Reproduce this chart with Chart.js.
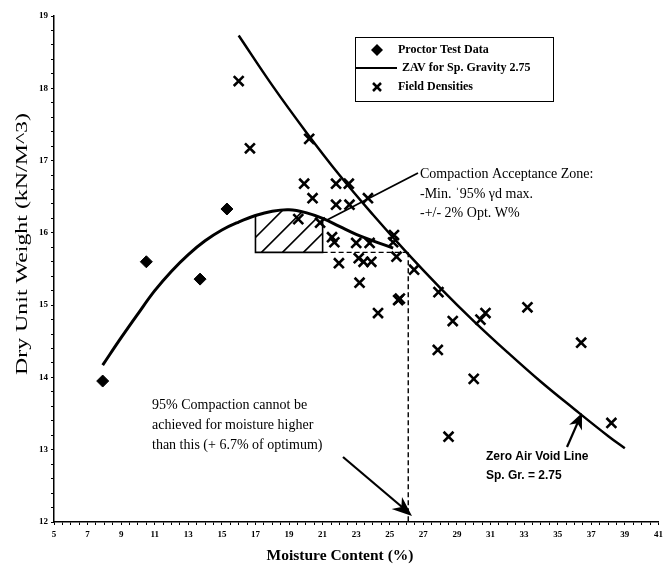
<!DOCTYPE html>
<html>
<head>
<meta charset="utf-8">
<script src="https://cdn.jsdelivr.net/npm/chart.js@4.4.1/dist/chart.umd.min.js"></script>
<style>
  html, body { margin: 0; padding: 0; background: #fff; }
  canvas { display: block; }
</style>
</head>
<body>
<canvas id="compaction" width="668" height="566"></canvas>
<script>
// proctor test points (moisture %, dry unit weight kN/m3)
const proctorW = [7.9, 10.5, 13.7, 15.3];
const proctorG = [13.95, 15.6, 15.36, 16.33];

// fitted compaction curve
const curveW = [7.9, 9, 10, 11, 12, 13, 14, 15, 16, 17, 18, 19, 20, 21, 22, 23, 24, 25.2];
const curveG = [14.17, 14.55, 14.88, 15.2, 15.47, 15.7, 15.89, 16.04, 16.15, 16.24, 16.3, 16.32, 16.28, 16.2, 16.09, 15.98, 15.89, 15.79];

// zero air void line, Sp. Gr. 2.75
const zavW = [16, 18, 20, 22, 24, 26, 28, 30, 32, 34, 36, 38, 39];
const zavG = [18.73, 18.04, 17.4, 16.8, 16.25, 15.73, 15.24, 14.78, 14.35, 13.94, 13.56, 13.19, 13.02];

// field densities
const fieldW = [16.0, 16.67, 20.2, 19.9, 20.4, 21.8, 22.56, 21.8, 22.6, 23.7, 19.55, 20.85, 21.56, 21.7,
                23.0, 23.8, 25.2, 25.25, 25.4, 21.97, 23.15, 23.44, 23.9, 26.45, 23.2, 25.5, 25.6, 24.3,
                27.9, 28.75, 30.7, 30.4, 33.2, 36.4, 27.86, 30.0, 28.5, 38.2];
const fieldG = [18.1, 17.17, 17.3, 16.68, 16.48, 16.68, 16.68, 16.39, 16.39, 16.48, 16.19, 16.14, 15.94, 15.87,
                15.86, 15.86, 15.87, 15.97, 15.67, 15.58, 15.65, 15.6, 15.6, 15.49, 15.31, 15.07, 15.09, 14.89,
                15.18, 14.78, 14.89, 14.8, 14.97, 14.48, 14.38, 13.98, 13.18, 13.37];

const zoneW = [17, 21];   // +/- 2% of optimum
const minG = 15.73;       // 95% of max
const limitW = 26.1;      // wettest moisture still reaching 95%

const pts = (xs, ys) => xs.map((v, i) => ({x: v, y: ys[i]}));

function arrowHead(ctx, x0, y0, x1, y1, len, half) {
    const a = Math.atan2(y1 - y0, x1 - x0);
    ctx.beginPath();
    ctx.moveTo(x1, y1);
    ctx.lineTo(x1 - len * Math.cos(a) + half * Math.sin(a), y1 - len * Math.sin(a) - half * Math.cos(a));
    ctx.lineTo(x1 - len * 0.7 * Math.cos(a), y1 - len * 0.7 * Math.sin(a));
    ctx.lineTo(x1 - len * Math.cos(a) - half * Math.sin(a), y1 - len * Math.sin(a) + half * Math.cos(a));
    ctx.closePath();
    ctx.fill();
}

function line(ctx, x0, y0, x1, y1) {
    ctx.beginPath();
    ctx.moveTo(x0, y0);
    ctx.lineTo(x1, y1);
    ctx.stroke();
}

const zonePlugin = {
    id: 'zone',
    beforeDatasetsDraw(chart) {
        const ctx = chart.ctx, xs = chart.scales.x, ys = chart.scales.y;
        const xl = xs.getPixelForValue(zoneW[0]), xr = xs.getPixelForValue(zoneW[1]);
        const yb = ys.getPixelForValue(minG);
        ctx.save();
        ctx.strokeStyle = '#000';
        ctx.lineWidth = 1.6;
        // region under the curve
        ctx.beginPath();
        ctx.moveTo(xl, yb);
        curveW.forEach((w, i) => {
            if (w >= zoneW[0] && w <= zoneW[1]) ctx.lineTo(xs.getPixelForValue(w), ys.getPixelForValue(curveG[i]));
        });
        ctx.lineTo(xr, yb);
        ctx.closePath();
        ctx.save();
        ctx.clip();
        for (let k = xl - 120; k < xr + 10; k += 21) line(ctx, k, yb, k + 120, yb - 120);
        ctx.restore();
        ctx.beginPath();
        ctx.moveTo(xl, ys.getPixelForValue(16.24));
        ctx.lineTo(xl, yb);
        ctx.lineTo(xr, yb);
        ctx.lineTo(xr, ys.getPixelForValue(16.2));
        ctx.stroke();
        // dashed limits
        const xd = xs.getPixelForValue(limitW);
        ctx.setLineDash([5, 3]);
        ctx.lineWidth = 1.4;
        line(ctx, xr, yb, xd, yb);
        line(ctx, xd, yb, xd, ys.getPixelForValue(12));
        ctx.restore();
    },
    afterDatasetsDraw(chart) {
        const ctx = chart.ctx;
        ctx.save();
        ctx.fillStyle = '#000';
        ctx.strokeStyle = '#000';

        // legend
        ctx.lineWidth = 1;
        ctx.strokeRect(355.5, 37.5, 198, 64);
        ctx.beginPath();
        ctx.moveTo(377, 44); ctx.lineTo(383, 50); ctx.lineTo(377, 56); ctx.lineTo(371, 50);
        ctx.closePath(); ctx.fill();
        ctx.lineWidth = 2;
        line(ctx, 356, 68, 397, 68);
        ctx.lineWidth = 2.5;
        line(ctx, 373, 83, 381, 91);
        line(ctx, 381, 83, 373, 91);
        ctx.font = 'bold 12px "Liberation Serif"';
        ctx.textBaseline = 'middle';
        ctx.fillText('Proctor Test Data', 398, 50);
        ctx.fillText('ZAV for Sp. Gravity 2.75', 402, 68);
        ctx.fillText('Field Densities', 398, 87);

        // acceptance zone callout
        ctx.lineWidth = 1.8;
        line(ctx, 418, 173, 327, 220);
        ctx.font = '14px "Liberation Serif"';
        ctx.fillText('Compaction Acceptance Zone:', 420, 174);
        ctx.fillText('-Min. \u02c895% \u03b3d max.', 420, 194);
        ctx.fillText('-+/- 2% Opt. W%', 420, 213);

        // 95% limit callout
        ctx.fillText('95% Compaction cannot be', 152, 405);
        ctx.fillText('achieved for moisture higher', 152, 425);
        ctx.fillText('than this (+ 6.7% of optimum)', 152, 445);
        ctx.lineWidth = 2.2;
        line(ctx, 343, 457, 402, 507);
        arrowHead(ctx, 343, 457, 412, 516, 20, 8);

        // ZAV label
        ctx.lineWidth = 2.2;
        line(ctx, 567, 447, 578, 422);
        arrowHead(ctx, 567, 447, 582, 413, 16, 7);
        ctx.font = 'bold 12px "Liberation Sans"';
        ctx.fillText('Zero Air Void Line', 486, 457);
        ctx.fillText('Sp. Gr. = 2.75', 486, 476);

        // axis titles
        ctx.font = 'bold 15.5px "Liberation Serif"';
        ctx.textAlign = 'center';
        ctx.fillText('Moisture Content (%)', 340, 556);
        const yTitle = 'Dry Unit Weight (kN/M^3)';
        ctx.font = '16px "Liberation Serif"';
        const stretch = 262 / ctx.measureText(yTitle).width;
        ctx.translate(23, 244);
        ctx.rotate(-Math.PI / 2);
        ctx.scale(stretch, 1);
        ctx.fillText(yTitle, 0, 0);
        ctx.restore();
    }
};

const tickFont = {family: '"Liberation Serif"', size: 9, weight: 'bold'};
const wholeOnly = odd => v => {
    const r = Math.round(v);
    if (Math.abs(v - r) > 1e-6) return '';
    if (odd && r % 2 === 0) return '';
    return String(r);
};

new Chart(document.getElementById('compaction'), {
    type: 'scatter',
    data: {
        datasets: [
            {
                label: 'Field Densities',
                data: pts(fieldW, fieldG),
                pointStyle: 'crossRot',
                pointRadius: 7,
                borderColor: '#000',
                borderWidth: 2.6
            },
            {
                label: 'Proctor Test Data',
                data: pts(proctorW, proctorG),
                pointStyle: 'rectRot',
                pointRadius: 6,
                backgroundColor: '#000',
                borderColor: '#000'
            },
            {
                label: 'Compaction curve',
                data: pts(curveW, curveG),
                showLine: true,
                tension: 0.4,
                pointRadius: 0,
                borderColor: '#000',
                borderWidth: 3
            },
            {
                label: 'ZAV for Sp. Gravity 2.75',
                data: pts(zavW, zavG),
                showLine: true,
                tension: 0.4,
                pointRadius: 0,
                borderColor: '#000',
                borderWidth: 2.5
            }
        ]
    },
    options: {
        responsive: false,
        animation: false,
        layout: {padding: {left: 0, right: 3, top: 16, bottom: 0}},
        plugins: {legend: {display: false}, tooltip: {enabled: false}},
        scales: {
            x: {
                min: 5, max: 41,
                border: {color: '#000', width: 1.5},
                grid: {drawOnChartArea: false, tickLength: 3, color: '#000'},
                ticks: {stepSize: 0.5, autoSkip: false, maxRotation: 0, padding: 4, color: '#000',
                        font: tickFont, callback: wholeOnly(true)},
                afterFit: s => { s.height = 44; s.paddingLeft = 0; s.paddingRight = 0; }
            },
            y: {
                min: 12, max: 19,
                border: {color: '#000', width: 1.5},
                grid: {drawOnChartArea: false, tickLength: 3, color: '#000'},
                ticks: {stepSize: 0.2, autoSkip: false, padding: 3, color: '#000',
                        font: tickFont, callback: wholeOnly(false)},
                afterFit: s => { s.width = 54; s.paddingTop = 0; s.paddingBottom = 0; }
            }
        }
    },
    plugins: [zonePlugin]
});
</script>
</body>
</html>
